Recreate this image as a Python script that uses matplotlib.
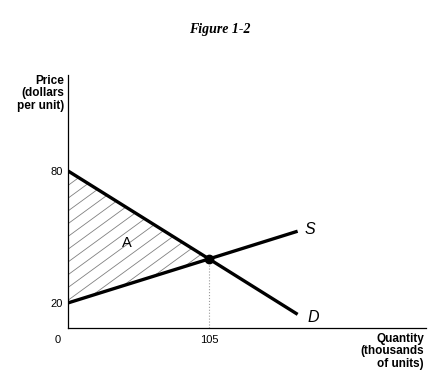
import numpy as np
import matplotlib.pyplot as plt
from matplotlib.patches import Polygon

# valores
precio_ticks = [20, 80]
cantidad_ticks = [105]
q_eq = 105
p_eq = 40
demanda_q = [0, 105, 171]
demanda_p = [80, 40, 14.8]
oferta_q = [0, 105, 171]
oferta_p = [20, 40, 52.6]
area_a = [(0, 80), (105, 40), (0, 20)]

plt.rcParams['font.family'] = ['Liberation Sans', 'DejaVu Sans']

fig = plt.figure(figsize=(4.41, 3.81), dpi=100)
ax = fig.add_axes([0.1542, 0.1391, 0.8118, 0.664])
ax.set_xlim(0, 266.6)
ax.set_ylim(8.6, 123.6)

for s in ['top', 'right']:
    ax.spines[s].set_visible(False)
ax.spines['left'].set_linewidth(0.9)
ax.spines['bottom'].set_linewidth(0.9)

ax.set_yticks(precio_ticks)
ax.set_yticklabels([str(v) for v in precio_ticks])
ax.set_xticks(cantidad_ticks)
ax.set_xticklabels([str(v) for v in cantidad_ticks])
ax.tick_params(length=0, labelsize=8, pad=4)
ax.tick_params(axis='x', pad=5)

# area A rayada
poli = Polygon(area_a, closed=True, facecolor='none', edgecolor='none')
ax.add_patch(poli)
pendiente = 0.445
for b in np.arange(-60, 90, 5.8):
    xs = np.array([0, 110])
    ln, = ax.plot(xs, b + pendiente * xs, color='#808080', lw=0.6, zorder=1)
    ln.set_clip_path(poli)

ax.plot([q_eq, q_eq], [8.6, p_eq], color='#999999', lw=0.8, ls=':', zorder=1)
ax.plot(demanda_q, demanda_p, color='black', lw=2.4, solid_capstyle='butt', zorder=3)
ax.plot(oferta_q, oferta_p, color='black', lw=2.4, solid_capstyle='butt', zorder=3)
ax.plot([q_eq], [p_eq], 'o', color='black', ms=6, zorder=4)

ax.text(176.5, 53.6, 'S', fontsize=11.5, style='italic', ha='left', va='center')
ax.text(178, 13.2, 'D', fontsize=11.5, style='italic', ha='left', va='center')
ax.text(44, 47.3, 'A', fontsize=10.5, ha='center', va='center')

fig.text(64 / 441, 1 - 75 / 381, 'Price\n(dollars\nper unit)', fontsize=8.5, weight='bold',
         ha='right', va='top', linespacing=1.05)
fig.text(424 / 441, 1 - 333 / 381, 'Quantity\n(thousands\nof units)', fontsize=8.5, weight='bold',
         ha='right', va='top', linespacing=1.05)
fig.text(58 / 441, 1 - 340 / 381, '0', fontsize=8, ha='center', va='center')

fig.text(220 / 441, 1 - 29 / 381, 'Figure 1-2', fontsize=10, style='italic', weight='bold',
         family=['Liberation Serif', 'DejaVu Serif'], ha='center', va='center')

fig.savefig('out.png', dpi=100)
